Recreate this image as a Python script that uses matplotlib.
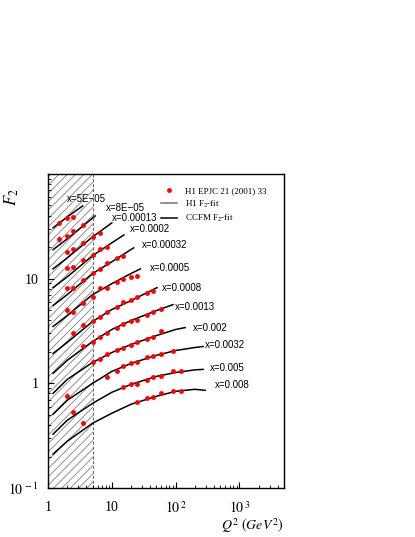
import numpy as np
import matplotlib.pyplot as plt
from matplotlib.lines import Line2D

plt.rcParams['font.family'] = ['Liberation Serif', 'DejaVu Serif']
plt.rcParams['mathtext.fontset'] = 'stix'
plt.rcParams['hatch.linewidth'] = 0.6
plt.rcParams['hatch.color'] = '0.5'

# x bins (top to bottom)
x_labels = ['x=5E\u221205', 'x=8E\u221205', 'x=0.00013', 'x=0.0002', 'x=0.00032',
            'x=0.0005', 'x=0.0008', 'x=0.0013', 'x=0.002', 'x=0.0032',
            'x=0.005', 'x=0.008']

# CCFM fit curves (shifted F2), nodes
fit_q2 = [
    [1.2, 2, 3.5],
    [1.2, 2, 5.5],
    [1.2, 2, 5, 10],
    [1.2, 2, 5, 10, 15.5],
    [1.2, 2, 5, 10, 22],
    [1.2, 2, 5, 10, 20, 28],
    [1.2, 2, 5, 10, 20, 51],
    [1.2, 2, 5, 10, 20, 50, 91],
    [1.2, 2, 5, 10, 20, 50, 100, 141],
    [1.2, 2, 5, 10, 20, 50, 100, 200, 270],
    [1.2, 2, 5, 10, 20, 50, 100, 200, 270],
    [1.2, 2, 5, 10, 20, 50, 100, 200, 290],
]
fit_f2 = [
    [30.6, 38.9, 49.6],
    [18.9, 24.0, 39.8],
    [12.4, 15.8, 25.1, 34.1],
    [8.21, 10.4, 16.6, 22.0, 26.2],
    [5.53, 7.04, 11.2, 14.5, 19.7],
    [3.49, 4.44, 7.04, 8.96, 11.2, 12.4],
    [1.93, 2.46, 3.90, 5.07, 6.17, 8.21],
    [1.245, 1.66, 2.51, 3.27, 3.98, 4.96, 5.65],
    [0.803, 1.09, 1.585, 1.97, 2.35, 2.86, 3.27, 3.41],
    [0.507, 0.689, 1.0, 1.30, 1.55, 1.85, 2.06, 2.20, 2.25],
    [0.327, 0.444, 0.645, 0.821, 0.978, 1.166, 1.27, 1.345, 1.36],
    [0.211, 0.280, 0.416, 0.518, 0.631, 0.752, 0.839, 0.877, 0.858],
]

# H1 data (shifted F2)
dat_q2 = [
    [1.5, 2, 2.5],
    [1.5, 2, 2.5, 3.5],
    [2, 2.5, 3.5, 5, 6.5],
    [2, 2.5, 3.5, 5, 6.5, 8.5],
    [2, 2.5, 3.5, 5, 6.5, 8.5, 12, 15],
    [2, 2.5, 3.5, 5, 6.5, 8.5, 12, 15, 20, 25],
    [2.5, 3.5, 5, 6.5, 8.5, 12, 15, 20, 25, 35, 45],
    [3.5, 5, 6.5, 8.5, 12, 15, 20, 25, 35, 45, 60],
    [5, 6.5, 8.5, 12, 15, 20, 25, 35, 45, 60],
    [2, 8.5, 12, 15, 20, 25, 35, 45, 60, 90],
    [2.5, 15, 20, 25, 35, 45, 60, 90, 120],
    [3.5, 25, 35, 45, 60, 90, 120],
]
dat_f2 = [
    [34.1, 38.1, 38.9],
    [24.0, 25.7, 28.7, 32.7],
    [18.1, 19.3, 22.0, 25.1, 27.4],
    [12.7, 13.0, 15.2, 16.9, 19.3, 20.2],
    [8.21, 8.21, 9.78, 11.4, 12.4, 14.2, 15.8, 16.6],
    [5.07, 4.85, 5.91, 6.74, 8.21, 8.21, 9.36, 10.0, 10.4, 10.7],
    [3.06, 3.57, 3.90, 4.35, 4.85, 5.41, 6.04, 6.31, 6.74, 7.36, 7.69],
    [2.25, 2.51, 2.80, 3.06, 3.41, 3.65, 3.98, 4.07, 4.54, 4.85, 5.18],
    [1.585, 1.69, 1.89, 2.06, 2.20, 2.35, 2.46, 2.68, 2.80, 3.13],
    [0.752, 1.14, 1.30, 1.48, 1.55, 1.585, 1.77, 1.81, 1.89, 2.02],
    [0.529, 0.916, 0.978, 0.978, 1.068, 1.14, 1.166, 1.30, 1.30],
    [0.416, 0.659, 0.720, 0.736, 0.803, 0.839, 0.839],
]
dat_err = [
    [0.6, 0.5, 0.5],
    [1.6, 0.5, 0.5, 0.5],
    [0.3, 0.3, 0.3, 0.3, 0.3],
    [0.2, 0.2, 0.2, 0.2, 0.2, 0.2],
    [0.15, 0.15, 0.15, 0.15, 0.15, 0.15, 0.15, 0.15],
    [0.35, 0.08, 0.08, 0.08, 0.08, 0.08, 0.08, 0.08, 0.08, 0.08],
    [0.05, 0.05, 0.05, 0.05, 0.05, 0.05, 0.05, 0.05, 0.05, 0.05, 0.05],
    [0.03, 0.03, 0.03, 0.03, 0.03, 0.03, 0.03, 0.03, 0.03, 0.03, 0.03],
    [0.02, 0.02, 0.02, 0.02, 0.02, 0.02, 0.02, 0.02, 0.02, 0.02],
    [0.05, 0.01, 0.01, 0.01, 0.01, 0.01, 0.01, 0.01, 0.01, 0.01],
    [0.02, 0.01, 0.01, 0.01, 0.01, 0.01, 0.01, 0.01, 0.01],
    [0.02, 0.01, 0.01, 0.01, 0.01, 0.01, 0.01],
]

# where the bin labels sit (Q2, F2)
label_q2 = [1.99, 8.14, 10.1, 19.4, 29.9, 39.9, 61.6, 98.6, 189, 291, 349, 418]
label_f2 = [57.8, 47.5, 38.1, 29.9, 21.1, 12.7, 8.21, 5.41, 3.41, 2.30, 1.39, 0.957]

q2_cut = 5.0

fig = plt.figure(figsize=(4.15, 5.37), dpi=100)
ax = fig.add_axes([0.1157, 0.0912, 0.5687, 0.5848])

ax.set_xscale('log')
ax.set_yscale('log')
ax.set_xlim(1, 5000)
ax.set_ylim(0.1, 100)

# excluded low-Q2 region
ax.axvspan(1, q2_cut, facecolor='none', edgecolor='0.5', hatch='////', linewidth=0, zorder=0)
ax.axvline(q2_cut, color='0.35', lw=0.7, ls=(0, (3, 2)), zorder=1)

for i in range(len(x_labels)):
    ax.plot(fit_q2[i], fit_f2[i], color='black', lw=1.1, zorder=3)
    ax.errorbar(dat_q2[i], dat_f2[i], yerr=dat_err[i], fmt='o', color='red',
                ms=3.5, mew=0, elinewidth=1.0, capsize=0, zorder=4)
    ax.text(label_q2[i], label_f2[i], x_labels[i], family=['Liberation Sans', 'DejaVu Sans'],
            fontsize=7, ha='left', va='center', zorder=5)

# ticks
ax.set_xticks([1, 10, 100, 1000])
ax.set_xticklabels(['1', '10', r'$10^{\,2}$', r'$10^{\,3}$'])
ax.set_yticks([0.1, 1, 10])
ax.set_yticklabels([r'$10^{\,-1}$', '1', '10'])
ax.tick_params(axis='both', which='both', direction='in', labelsize=10)
ax.tick_params(axis='x', which='major', length=4, pad=9)
ax.tick_params(axis='x', which='minor', length=2)
ax.tick_params(axis='y', which='major', length=4, pad=7)
ax.tick_params(axis='y', which='minor', length=2)
for s in ax.spines.values():
    s.set_linewidth(1.0)

# legend
handles = [
    Line2D([], [], marker='o', color='red', ls='none', ms=3.5, mew=0),
    Line2D([], [], color='0.45', lw=1.1),
    Line2D([], [], color='black', lw=1.1),
]
names = ['H1 EPJC 21 (2001) 33', r'H1 F$_2$-fit', r'CCFM F$_2$-fit']
ax.legend(handles, names, loc='upper left', bbox_to_anchor=(0.445, 0.985), frameon=False,
          fontsize=6.5, handlelength=1.8, labelspacing=0.35, handletextpad=0.8)

fig.text(0.029, 0.633, r'$F_2$', rotation=90, fontsize=12, ha='center', va='center')
fig.text(0.684, 0.022, r'$Q^2\ (GeV^2)$', fontsize=10, ha='right', va='center')

fig.savefig('out.png', dpi=100)
